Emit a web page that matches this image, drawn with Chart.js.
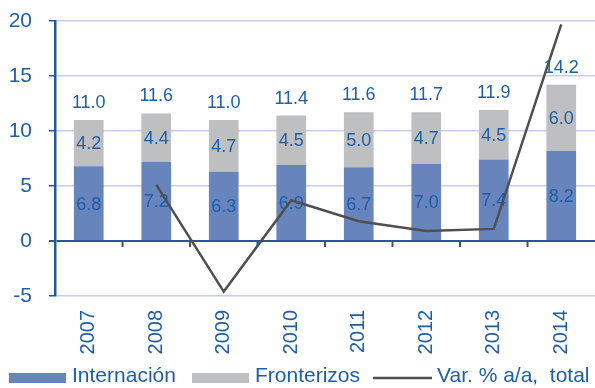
<!DOCTYPE html>
<html>
<head>
<meta charset="utf-8">
<script src="https://cdn.jsdelivr.net/npm/chart.js@4"></script>
<style>
  html, body { margin: 0; padding: 0; background: #fff; overflow: hidden; }
  canvas { display: block; }
</style>
</head>
<body>
<canvas id="c" width="595" height="388"></canvas>
<script>
// Visitantes internacionales (millones) y variación anual del total
const years = ['2007', '2008', '2009', '2010', '2011', '2012', '2013', '2014'];
const internacion = [6.8, 7.2, 6.3, 6.9, 6.7, 7.0, 7.4, 8.2];
const fronterizos = [4.2, 4.4, 4.7, 4.5, 5.0, 4.7, 4.5, 6.0];
const totals = [11.0, 11.6, 11.0, 11.4, 11.6, 11.7, 11.9, 14.2];
const varTotal = [null, 5.1, -4.6, 3.7, 1.8, 0.9, 1.1, 19.7];
const seriesNames = ['Internación', 'Fronterizos', 'Var. % a/a,  total'];
const yTicks = [-5, 0, 5, 10, 15, 20];

const FONT = '"Liberation Sans", Arial, sans-serif';
const BLUE_TEXT = '#1F5FA8';
const AXIS_BLUE = '#1E5AA2';
const GRID = '#C8CDEB';
const BAR_BLUE = '#6784BD';
const BAR_GRAY = '#BEBFC1';
const LINE_GRAY = '#4F4F4F';

// Value labels inside the segments and totals above each stack
const labelPlugin = {
  id: 'valueLabels',
  beforeDatasetDraw(chart, args) {
    if (args.index !== 2) return;
    const ctx = chart.ctx;
    const y = chart.scales.y;
    ctx.save();
    ctx.fillStyle = BLUE_TEXT;
    ctx.font = '18px ' + FONT;
    ctx.textAlign = 'center';
    ctx.textBaseline = 'middle';
    const m0 = chart.getDatasetMeta(0);
    const m1 = chart.getDatasetMeta(1);
    years.forEach((_, i) => {
      const x = m0.data[i].x;
      const a = internacion[i], b = fronterizos[i];
      ctx.fillText(a.toFixed(1), x, y.getPixelForValue(a / 2) + 1);
      ctx.fillText(b.toFixed(1), x, y.getPixelForValue(a + b / 2) + 1);
      const top = m1.data[i].y;
      ctx.fillText(totals[i].toFixed(1), x, top - 17);
    });
    ctx.restore();
  }
};

// Category separators on the zero line, and the legend row
const decorPlugin = {
  id: 'decor',
  afterDraw(chart) {
    const ctx = chart.ctx;
    const xs = chart.scales.x, ys = chart.scales.y;
    const y0 = ys.getPixelForValue(0);
    ctx.save();
    ctx.strokeStyle = AXIS_BLUE;
    ctx.lineWidth = 2;
    ctx.beginPath();
    for (let i = 0; i < years.length - 1; i++) {
      const xb = (xs.getPixelForTick(i) + xs.getPixelForTick(i + 1)) / 2;
      ctx.moveTo(xb, y0);
      ctx.lineTo(xb, y0 + 6);
    }
    ctx.stroke();

    // legend
    const ly = 377;
    ctx.font = '21px ' + FONT;
    ctx.textBaseline = 'middle';
    ctx.textAlign = 'left';
    ctx.fillStyle = BAR_BLUE;
    ctx.fillRect(9, ly - 4, 57, 10);
    ctx.fillStyle = BLUE_TEXT;
    ctx.fillText(seriesNames[0], 72, ly - 1);
    ctx.fillStyle = BAR_GRAY;
    ctx.fillRect(192, ly - 4, 57, 10);
    ctx.fillStyle = BLUE_TEXT;
    ctx.fillText(seriesNames[1], 255, ly - 1);
    ctx.strokeStyle = LINE_GRAY;
    ctx.lineWidth = 2.5;
    ctx.beginPath();
    ctx.moveTo(373, ly + 1);
    ctx.lineTo(432, ly + 1);
    ctx.stroke();
    ctx.fillStyle = BLUE_TEXT;
    ctx.fillText(seriesNames[2], 437, ly - 1);
    ctx.restore();
  }
};

new Chart(document.getElementById('c'), {
  data: {
    labels: years,
    datasets: [
      {
        type: 'bar', label: seriesNames[0], data: internacion,
        backgroundColor: BAR_BLUE, stack: 'v', order: 1,
        barPercentage: 0.44, categoryPercentage: 1.0
      },
      {
        type: 'bar', label: seriesNames[1], data: fronterizos,
        backgroundColor: BAR_GRAY, stack: 'v', order: 1,
        barPercentage: 0.44, categoryPercentage: 1.0
      },
      {
        type: 'line', label: seriesNames[2], data: varTotal,
        borderColor: LINE_GRAY, borderWidth: 2.5, pointRadius: 0,
        tension: 0, fill: false, stack: 'var', order: 0, spanGaps: false
      }
    ]
  },
  options: {
    responsive: false,
    animation: false,
    layout: { padding: { top: 21, right: 0, bottom: 30, left: 0 } },
    plugins: { legend: { display: false }, tooltip: { enabled: false } },
    scales: {
      x: {
        stacked: true,
        grid: { display: false },
        border: { display: false },
        ticks: {
          color: BLUE_TEXT, font: { family: FONT, size: 20 },
          minRotation: 90, maxRotation: 90, padding: 6, autoSkip: false
        },
        afterFit(s) { s.height = 62; }
      },
      y: {
        stacked: true,
        min: -5, max: 20,
        afterBuildTicks(s) { s.ticks = yTicks.map(v => ({ value: v })); },
        grid: {
          color: ctx => ctx.tick && ctx.tick.value === 0 ? AXIS_BLUE : GRID,
          lineWidth: ctx => ctx.tick && ctx.tick.value === 0 ? 2 : 1.5,
          tickColor: AXIS_BLUE, tickLength: 6, drawTicks: true
        },
        border: { display: true, color: AXIS_BLUE, width: 2.5 },
        ticks: { color: BLUE_TEXT, font: { family: FONT, size: 21 }, padding: 17 },
        afterFit(s) { s.width = 55; s.paddingTop = 0; s.paddingBottom = 0; }
      }
    }
  },
  plugins: [labelPlugin, decorPlugin]
});
</script>
</body>
</html>
